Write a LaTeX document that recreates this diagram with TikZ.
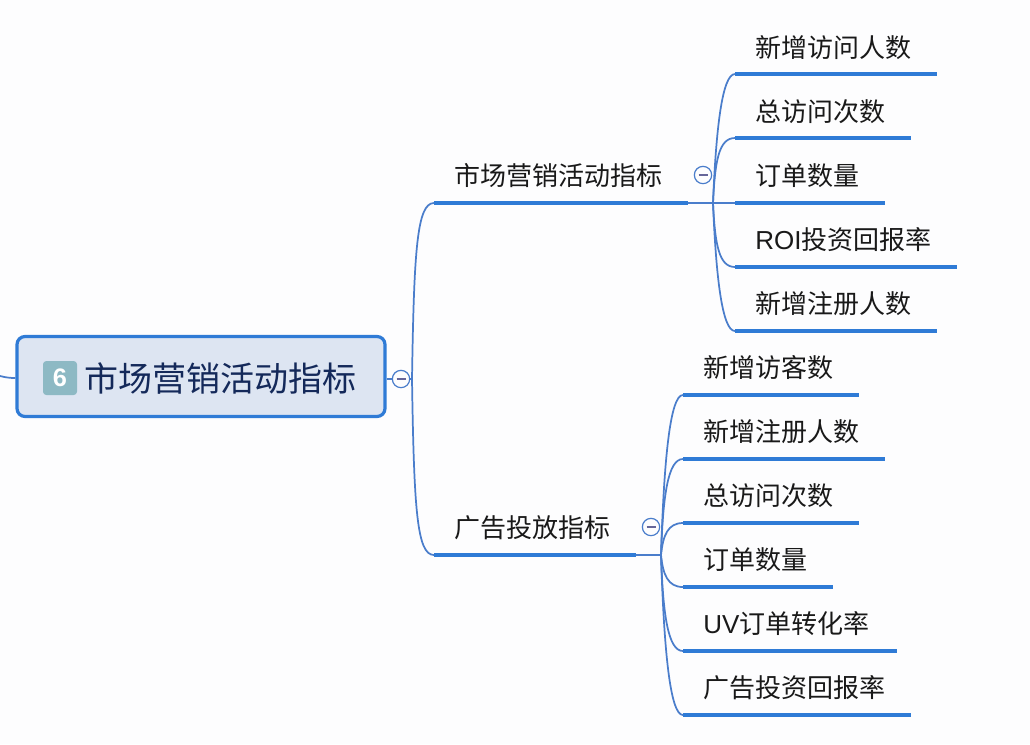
\documentclass[tikz,border=0pt]{standalone}
\usepackage{fontspec}
\setmainfont{Noto Sans CJK SC}
\setsansfont{Liberation Sans}
\definecolor{linkblue}{HTML}{4A7DCB}
\definecolor{barblue}{HTML}{2F7BD6}
\definecolor{boxfill}{HTML}{DDE5F2}
\definecolor{titleink}{HTML}{14295A}
\definecolor{badgeteal}{HTML}{8DB9C4}
\definecolor{paper}{HTML}{FDFDFE}
\tikzset{
  link/.style={draw=linkblue,line width=1.3pt},
  bar/.style={draw=barblue,line width=2.6pt},
  leaftext/.style={anchor=west,inner sep=0pt,font=\fontsize{19.5}{19.5}\selectfont,text=black!90},
  fold/.style={circle,draw=linkblue,fill=paper,line width=.9pt,minimum size=13pt,inner sep=0pt},
  foldbar/.style={draw=gray!80!blue,line width=.8pt}
}
\begin{document}
\begin{tikzpicture}[x=.75pt,y=-.75pt]
    \useasboundingbox [fill=paper] (0,0) rectangle (1030,744);

    % main topic
    \node [draw=barblue,fill=boxfill,line width=2.4pt,rounded corners=6pt,minimum width=276pt,minimum height=60pt,inner sep=0pt] (main) at (201,376.5) {};
    \node [fill=badgeteal,rounded corners=2.5pt,minimum size=25.5pt,inner sep=0pt,text=white,font=\sffamily\bfseries\fontsize{19}{19}\selectfont] (badge) at (60,378) {6};
    \node [leaftext,text=titleink,font=\fontsize{25.5}{25.5}\selectfont] (title) at (84,378) {市场营销活动指标};
    \coordinate (stub) at (0,376);
    \draw [link] (stub) .. controls (6,377.5) and (10,378) .. (main.west |- badge);

    % fold marks
    \coordinate (hub) at (412,379);
    \node [fold] (fmain) at (401,379) {};
    \node [fold] (fa) at (703,175) {};
    \node [fold] (fb) at (651,527) {};
    \draw [foldbar] (fmain.center) ++(-4.5,0) -- ++(9,0);
    \draw [foldbar] (fa.center) ++(-4.5,0) -- ++(9,0);
    \draw [foldbar] (fb.center) ++(-4.5,0) -- ++(9,0);
    \draw [link] (main.east |- fmain) -- (fmain.west);
    \draw [link] (fmain.east) -- (hub);

    % first branch
    \node [leaftext] (a) at (454,176) {市场营销活动指标};
    \coordinate (as) at (434,203);
    \coordinate (ae) at (688,203);
    \coordinate (ahub) at (713,203);
    \draw [bar] (as) -- (ae);
    \draw [link] (hub) .. controls (414,250) and (417,203) .. (as);
    \draw [link] (ae) -- (ahub);

    % second branch
    \node [leaftext] (b) at (454,528) {广告投放指标};
    \coordinate (bs) at (434,555);
    \coordinate (be) at (636,555);
    \coordinate (bhub) at (661,555);
    \draw [bar] (bs) -- (be);
    \draw [link] (hub) .. controls (414,510) and (417,555) .. (bs);
    \draw [link] (be) -- (bhub);

    % leaves of first branch
    \node [leaftext] (a1) at (755,48) {新增访问人数};
    \coordinate (a1s) at (735,74);
    \coordinate (a1e) at (937,74);
    \node [leaftext] (a2) at (755,112) {总访问次数};
    \coordinate (a2s) at (735,138);
    \coordinate (a2e) at (911,138);
    \node [leaftext] (a3) at (755,176) {订单数量};
    \coordinate (a3s) at (735,203);
    \coordinate (a3e) at (885,203);
    \node [leaftext] (a4) at (755,240) {{\sffamily ROI}投资回报率};
    \coordinate (a4s) at (735,267);
    \coordinate (a4e) at (957,267);
    \node [leaftext] (a5) at (755,304) {新增注册人数};
    \coordinate (a5s) at (735,331);
    \coordinate (a5e) at (937,331);

    \draw [bar] (a1s) -- (a1e);
    \draw [bar] (a2s) -- (a2e);
    \draw [bar] (a3s) -- (a3e);
    \draw [bar] (a4s) -- (a4e);
    \draw [bar] (a5s) -- (a5e);
    \draw [link] (ahub) .. controls (716,130) and (722,74) .. (a1s);
    \draw [link] (ahub) .. controls (715,160) and (719,138) .. (a2s);
    \draw [link] (ahub) -- (a3s);
    \draw [link] (ahub) .. controls (715,245) and (719,267) .. (a4s);
    \draw [link] (ahub) .. controls (716,276) and (722,331) .. (a5s);

    % leaves of second branch
    \node [leaftext] (b1) at (703,368) {新增访客数};
    \coordinate (b1s) at (683,395);
    \coordinate (b1e) at (859,395);
    \node [leaftext] (b2) at (703,432) {新增注册人数};
    \coordinate (b2s) at (683,459);
    \coordinate (b2e) at (885,459);
    \node [leaftext] (b3) at (703,496) {总访问次数};
    \coordinate (b3s) at (683,523);
    \coordinate (b3e) at (859,523);
    \node [leaftext] (b4) at (703,560) {订单数量};
    \coordinate (b4s) at (683,587);
    \coordinate (b4e) at (833,587);
    \node [leaftext] (b5) at (703,624) {{\sffamily UV}订单转化率};
    \coordinate (b5s) at (683,651);
    \coordinate (b5e) at (897,651);
    \node [leaftext] (b6) at (703,688) {广告投资回报率};
    \coordinate (b6s) at (683,715);
    \coordinate (b6e) at (911,715);

    \draw [bar] (b1s) -- (b1e);
    \draw [bar] (b2s) -- (b2e);
    \draw [bar] (b3s) -- (b3e);
    \draw [bar] (b4s) -- (b4e);
    \draw [bar] (b5s) -- (b5e);
    \draw [bar] (b6s) -- (b6e);
    \draw [link] (bhub) .. controls (664,460) and (670,395) .. (b1s);
    \draw [link] (bhub) .. controls (663,495) and (668,459) .. (b2s);
    \draw [link] (bhub) .. controls (663,535) and (668,523) .. (b3s);
    \draw [link] (bhub) .. controls (663,575) and (668,587) .. (b4s);
    \draw [link] (bhub) .. controls (663,615) and (668,651) .. (b5s);
    \draw [link] (bhub) .. controls (664,650) and (670,715) .. (b6s);

\end{tikzpicture}
\end{document}
